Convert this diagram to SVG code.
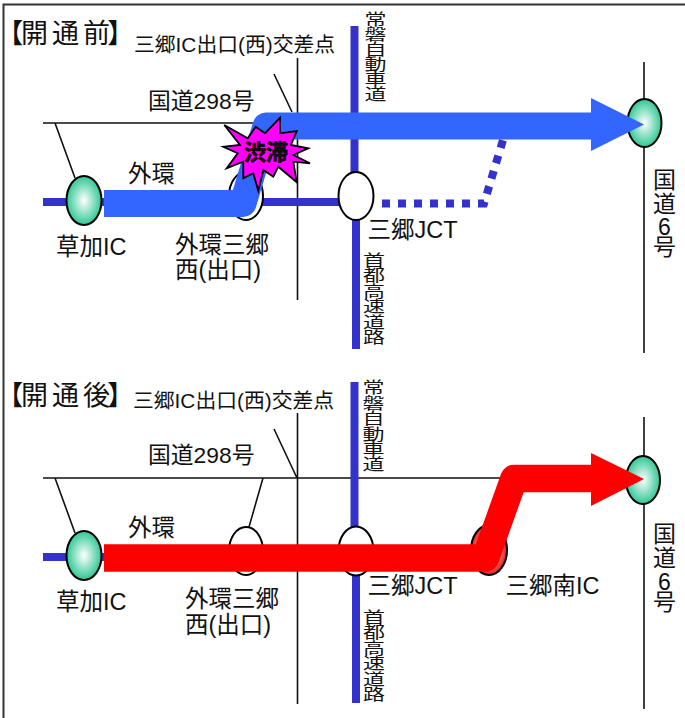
<svg xmlns="http://www.w3.org/2000/svg" width="685" height="718" viewBox="0 0 685 718">
<style>
text{font-family:"Liberation Sans","Noto Sans CJK JP",sans-serif;fill:#111}
.thin{fill:none;stroke:#111;stroke-width:1.6}
.exp{fill:none;stroke:#3333cc;stroke-width:8}
.node{stroke:#000;stroke-width:2}
.wh{fill:#fff}.gr{fill:url(#g)}.rd{fill:url(#r)}
.s23{font-size:23.500px}.s22{font-size:22.800px}.s20{font-size:20.800px}.s26{font-size:27px;font-feature-settings:"palt"}
.v{font-size:22px;text-anchor:middle}
.vv{font-size:23px;text-anchor:middle}
</style>
<defs>
<radialGradient id="g"><stop offset="0" stop-color="#fff"/><stop offset="1" stop-color="#2fc795"/></radialGradient>
<radialGradient id="r"><stop offset="0" stop-color="#fff"/><stop offset="1" stop-color="#ee1c1c"/></radialGradient>
</defs>
<rect width="685" height="718" fill="#fff"/>
<path d="M3.500 718V4.500H685" fill="none" stroke="#333" stroke-width="2"/>
<g id="connectors">
<path class="thin" d="M297.500 58V300M43 123H644M55 123L75 178M274 74L292 112M644 62V353"/>
<path class="exp" d="M43 202H68M100 202H340M354.500 26V175M356 218V349"/>
<path class="exp" stroke-dasharray="8 8" d="M382 203.500H484L503 140"/>
<path class="thin" d="M297.500 413V704M43 478H644M55 478L75 533M263 478L249 527M274 429L297 478M644 417V709"/>
<path class="exp" d="M43 557H68M100 557H104M354.500 382V530M356 572V703"/>
</g>
<g id="n-soka-1"><ellipse class="node gr" cx="84" cy="200.500" rx="17.500" ry="24.500"/></g>
<g id="n-gaikan-1"><ellipse class="node wh" cx="246" cy="196" rx="17" ry="24"/></g>
<g id="n-jct-1"><ellipse class="node wh" cx="356" cy="196" rx="17.500" ry="24"/></g>
<g id="n-r6-1"><ellipse class="node gr" cx="644.500" cy="123" rx="17" ry="24"/></g>
<g id="n-soka-2"><ellipse class="node gr" cx="84" cy="555.500" rx="17.500" ry="24.500"/></g>
<g id="n-gaikan-2"><ellipse class="node wh" cx="246" cy="551" rx="17" ry="24"/></g>
<g id="n-jct-2"><ellipse class="node wh" cx="356" cy="551" rx="17.500" ry="24.500"/></g>
<g id="n-minami-2"><ellipse class="node rd" cx="489" cy="550" rx="18" ry="25"/></g>
<g id="n-r6-2"><ellipse class="node gr" cx="643" cy="480" rx="17" ry="24"/></g>
<g id="flow-before">
<path d="M104 203.500H243L266 126H592" fill="none" stroke="#3366ff" stroke-width="27" stroke-linejoin="round"/>
<path d="M591 98L644 124.500L591 151Z" fill="#3366ff"/>
</g>
<g id="flow-after">
<path d="M104 558H485.500L514 478.500H592" fill="none" stroke="#f00" stroke-width="27.500" stroke-linejoin="round"/>
<path d="M591 453L644 479L591 506Z" fill="#f00"/>
</g>
<g id="congestion">
<path d="M224.300 125L247.700 138.300L255.700 126.700L265 133.300L280 117.700L280 133.300L296.700 131L291 145L308.300 148.300L293.300 155L310 163.300L293.300 161.700L296.700 182.300L278.300 166.700L273.300 176.700L263.300 170L258.300 191L253.300 173.300L243.300 178.300L243.300 161.700L226.700 168.300L237.700 153.300L223.300 146.700L240 145Z" fill="#f0f" stroke="#000" stroke-width="1.800" stroke-linejoin="miter"/>
<text x="244" y="160" font-size="22" font-weight="700" stroke="#000" stroke-width=".6">渋滞</text>
</g>
<g id="labels">
<text class="s26" x="9 21 52 83 108" y="43">【開通前】</text>
<text class="s20" x="134" y="52">三郷IC出口(西)交差点</text>
<text class="s22" x="148" y="109">国道298号</text>
<text class="s23" x="128" y="182">外環</text>
<text class="s23" x="56" y="255">草加IC</text>
<text class="s23" x="175" y="253">外環三郷</text>
<text class="s23" x="175" y="278">西(出口)</text>
<text class="s23" x="367.500" y="238">三郷JCT</text>
<text class="vv" x="664.500 664.500 664.500 664.500" y="188 212 235 255">国道6号</text>
<text class="v" transform="translate(375.500 0) scale(1 .7)" x="0 0 0 0 0 0" y="36 57.400 78.800 100.200 121.600 143">常磐自動車道</text>
<text class="v" transform="translate(374 0) scale(1 .7)" x="0 0 0 0 0 0" y="380 402 424 446 468 490">首都高速道路</text>
<text class="s26" x="9 21 52 83 108" y="405">【開通後】</text>
<text class="s20" x="133" y="408">三郷IC出口(西)交差点</text>
<text class="s22" x="148" y="463">国道298号</text>
<text class="s23" x="128" y="536">外環</text>
<text class="s23" x="56" y="610">草加IC</text>
<text class="s23" x="185" y="607">外環三郷</text>
<text class="s23" x="185" y="633">西(出口)</text>
<text class="s23" x="367.500" y="594">三郷JCT</text>
<text class="s23" x="505.500" y="594">三郷南IC</text>
<text class="vv" x="664.500 664.500 664.500 664.500" y="542 566 590 610">国道6号</text>
<text class="v" transform="translate(373.500 0) scale(1 .7)" x="0 0 0 0 0 0" y="562 584 606 628 650 672">常磐自動車道</text>
<text class="v" transform="translate(374 0) scale(1 .7)" x="0 0 0 0 0 0" y="890 912 934 956 978 1000">首都高速道路</text>
</g>
</svg>
